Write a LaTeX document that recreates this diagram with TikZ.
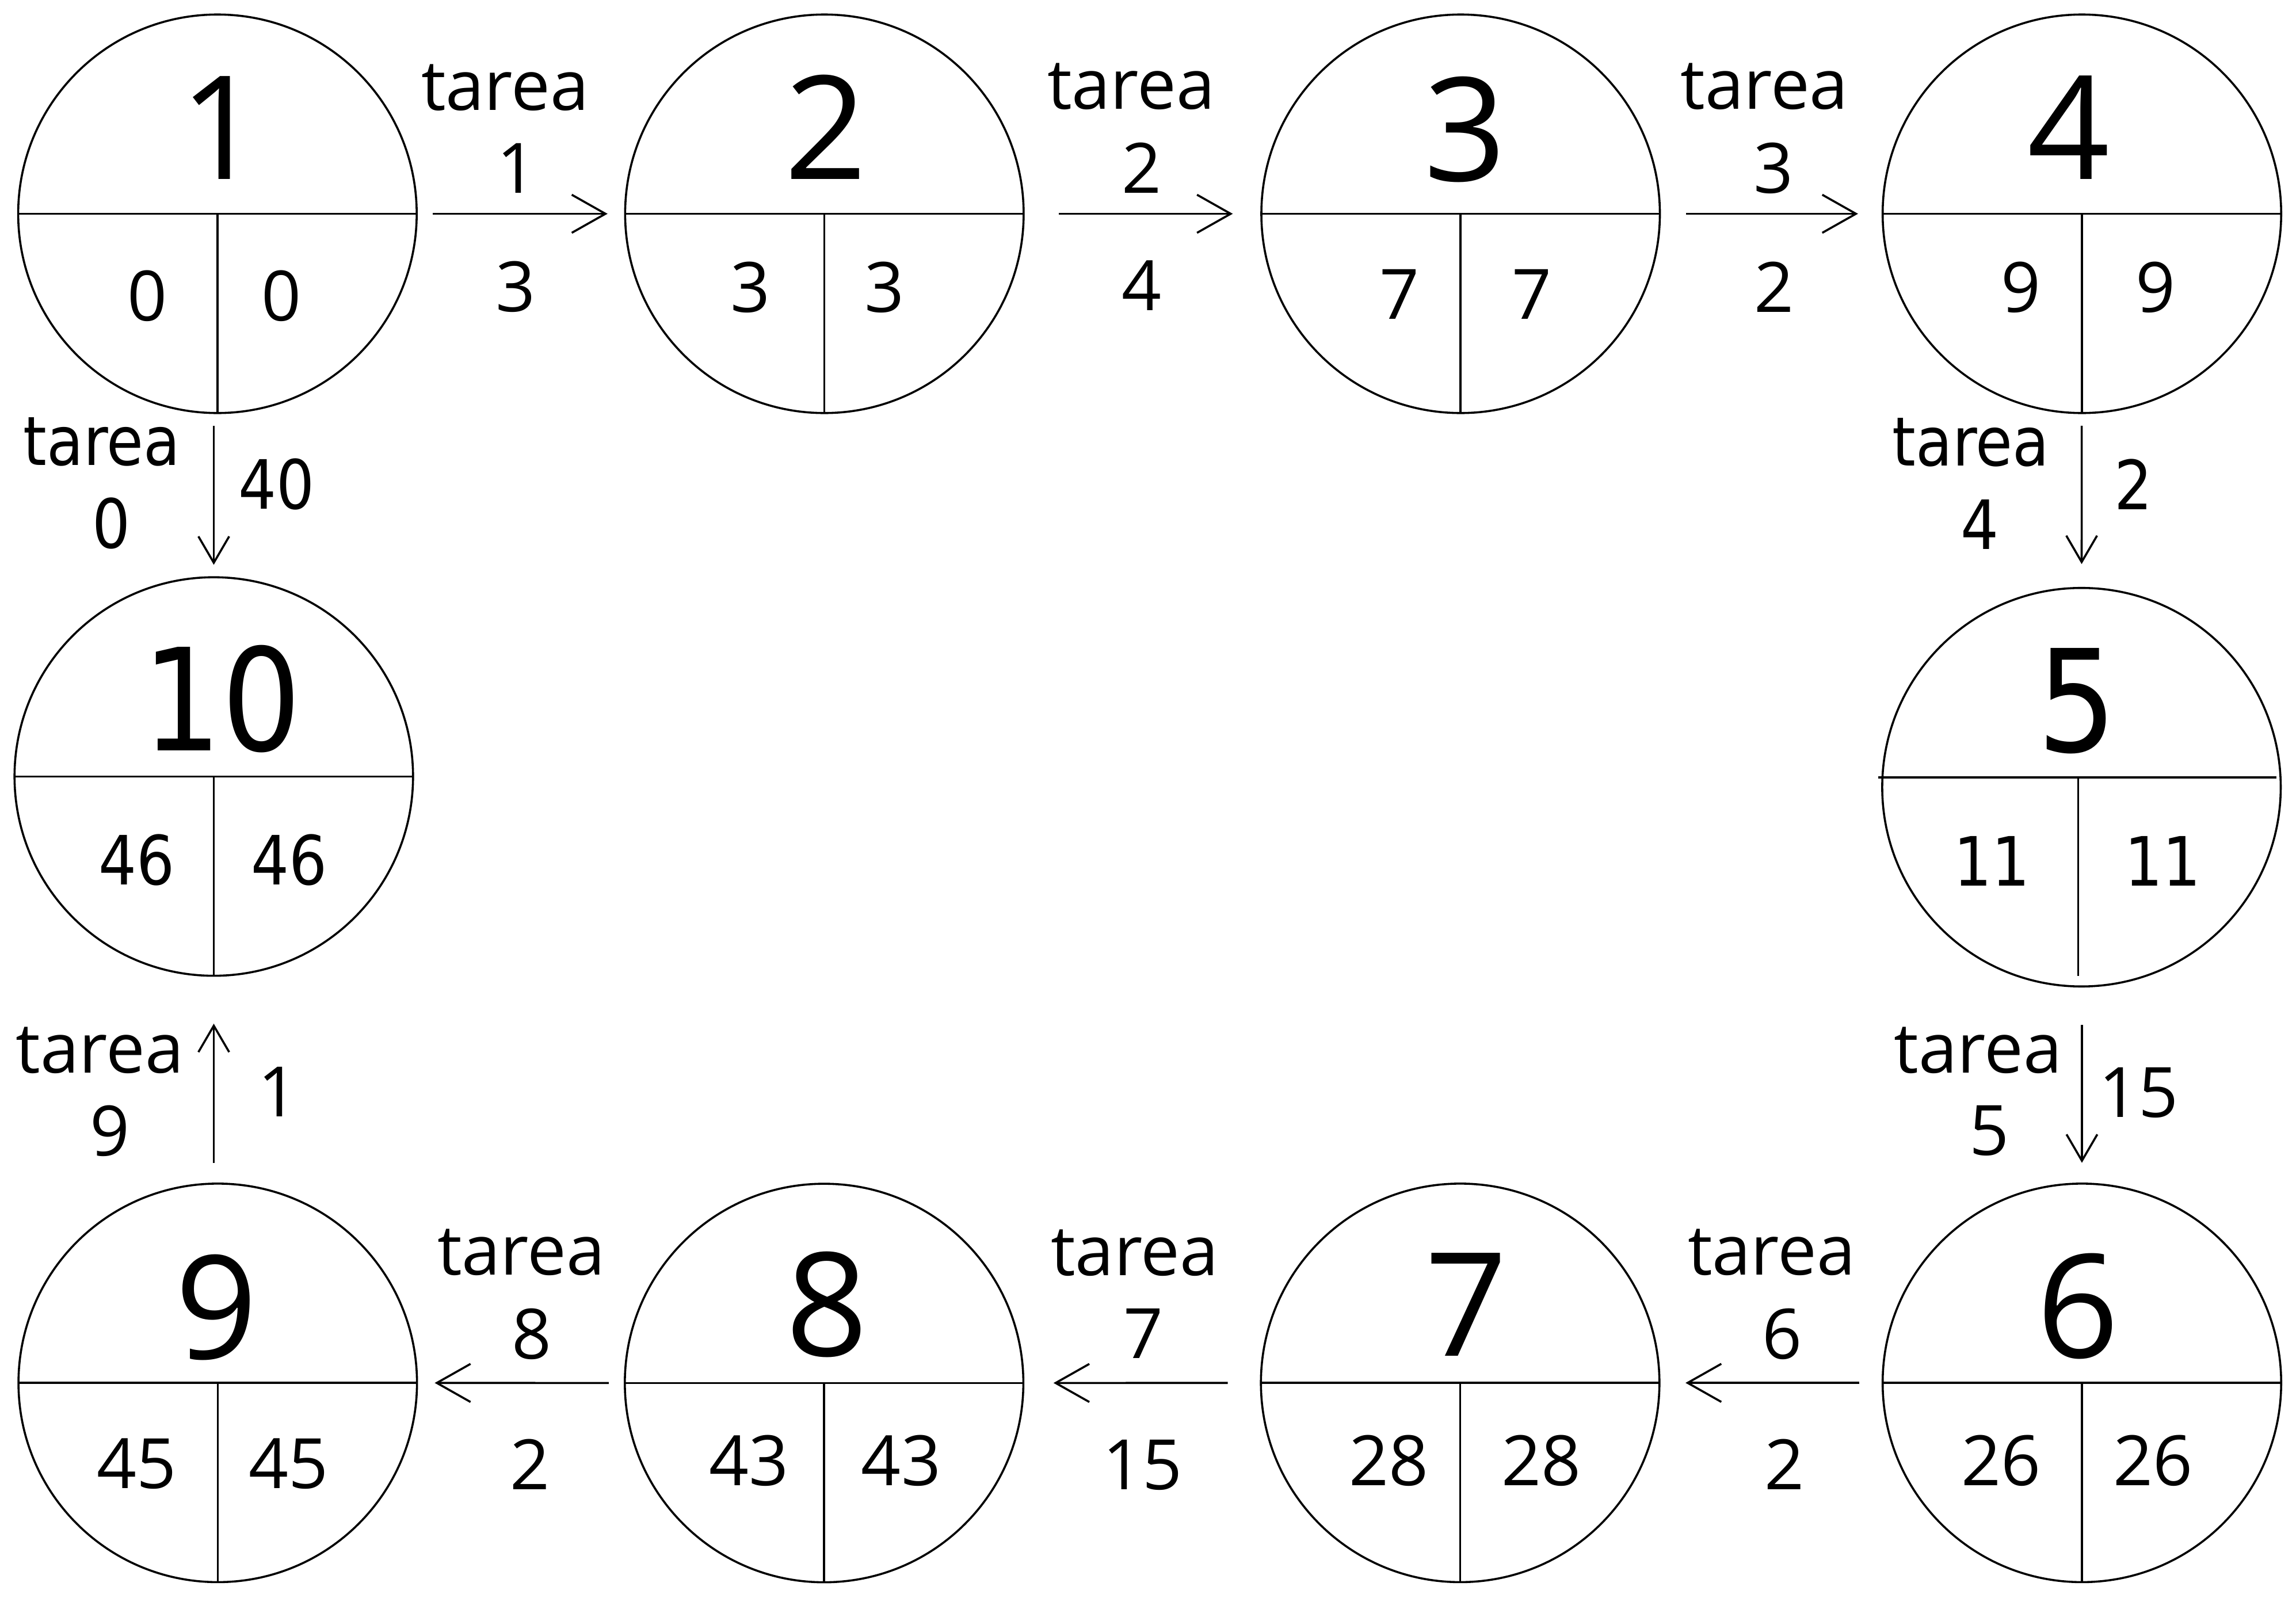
\documentclass[tikz,border=0pt]{standalone}
\usepackage{fontspec}
\setmainfont{Open Sans}
\newfontfamily\dvfont[FakeStretch=0.88]{DejaVu Sans}
\usetikzlibrary{arrows.meta}

\begin{document}
\begin{tikzpicture}[
  x=0.01cm, y=-0.01cm,
  event/.style={circle, draw, minimum size=2.72cm, inner sep=0pt, outer sep=0pt},
  bignum/.style={anchor=base, font=\fontsize{28}{30}\selectfont},
  txt/.style={anchor=base, font=\fontsize{13.5}{16}\selectfont},
  bigdv/.style={anchor=base, font=\dvfont\fontsize{27.6}{30}\selectfont},
  txtdv/.style={anchor=base, font=\dvfont\fontsize{13.2}{16}\selectfont},
  harrow/.style={-{Straight Barb[length=0.23cm, width=0.26cm]}},
  varrow/.style={-{Straight Barb[length=0.18cm, width=0.21cm]}}
]
\useasboundingbox (0,0) rectangle (1568,1091);

% Events, top row
\node[event] (e1) at (148.5,146) {};
\node[event] (e2) at (563,146) {};
\node[event] (e3) at (997.5,146) {};
\node[event] (e4) at (1421.8,146) {};
% Events, sides
\node[event] (e10) at (146,530.3) {};
\node[event] (e5) at (1421.5,537.6) {};
% Events, bottom row
\node[event] (e6) at (1421.8,944.4) {};
\node[event] (e7) at (997.2,944.4) {};
\node[event] (e8) at (562.8,944.5) {};
\node[event] (e9) at (148.7,944.4) {};

% Dividing lines
\draw (e1.west) -- (e1.east) (e1.center) -- (e1.south);
\draw (e2.west) -- (e2.east) (e2.center) -- (e2.south);
\draw (e3.west) -- (e3.east) (e3.center) -- (e3.south);
\draw (e4.west) -- (e4.east) (e4.center) -- (e4.south);
\draw (e10.west) -- (e10.east) (e10.center) -- (e10.south);
\draw ([shift={(-2.8,-6.6)}]e5.west) -- ([shift={(-2.8,-6.6)}]e5.east);
\draw ([shift={(-2.2,-6.6)}]e5.center) -- ([shift={(-2.2,-7.2)}]e5.south);
\draw (e6.west) -- (e6.east) (e6.center) -- (e6.south);
\draw (e7.west) -- (e7.east) (e7.center) -- (e7.south);
\draw (e8.west) -- (e8.east) (e8.center) -- (e8.south);
\draw (e9.west) -- (e9.east) (e9.center) -- (e9.south);

% Event numbers and times
\node[bignum] (e1n) at (151,122.6) {1};
\node[txt] (e1a) at (100.6,219) {0};
\node[txt] (e1b) at (192,219) {0};

\node[bignum] (e2n) at (564,122.5) {2};
\node[txt] (e2a) at (512.5,213) {3};
\node[txt] (e2b) at (604,213) {3};

\node[bignum] (e3n) at (1000.4,123.4) {3};
\node[txt] (e3a) at (955.6,218) {7};
\node[txt] (e3b) at (1046,218) {7};

\node[bignum] (e4n) at (1412.7,122.5) {4};
\node[txt] (e4a) at (1380,213) {9};
\node[txt] (e4b) at (1472,213) {9};

\node[bigdv] (e5n) at (1418.7,513.5) {5};
\node[txtdv] (e5a) at (1360.5,605) {11};
\node[txtdv] (e5b) at (1477,605) {11};

\node[bignum] (e6n) at (1419,927.4) {6};
\node[txt] (e6a) at (1366.5,1014.5) {26};
\node[txt] (e6b) at (1470.5,1014.5) {26};

\node[bignum] (e7n) at (1001.4,926) {7};
\node[txt] (e7a) at (948.3,1014.3) {28};
\node[txt] (e7b) at (1052.7,1014.3) {28};

\node[bignum] (e8n) at (564.8,926) {8};
\node[txt] (e8a) at (511.3,1014.3) {43};
\node[txt] (e8b) at (615.4,1014.3) {43};

\node[bignum] (e9n) at (148,928) {9};
\node[txt] (e9a) at (93.4,1016.4) {45};
\node[txt] (e9b) at (197,1016.4) {45};

\node[bigdv] (e10n) at (151.7,512.7) {10};
\node[txtdv] (e10a) at (93.5,604.4) {46};
\node[txtdv] (e10b) at (197.4,604.4) {46};

% Tasks
\draw[harrow, shorten <=0.11cm, shorten >=0.12cm] (e1) -- (e2);
\node[txt] (t1) at (345,75.2) {tarea};
\node[txt] (k1) at (352.8,131.8) {1};
\node[txt] (d1) at (352,212.7) {3};

\draw[harrow, shorten <=0.239cm, shorten >=0.195cm] (e2) -- (e3);
\node[txt] (t2) at (772.6,74.3) {tarea};
\node[txt] (k2) at (779.5,131.8) {2};
\node[txt] (d2) at (779.8,212) {4};

\draw[harrow, shorten <=0.18cm, shorten >=0.168cm] (e3) -- (e4);
\node[txt] (t3) at (1205,74.3) {tarea};
\node[txt] (k3) at (1211,131.8) {3};
\node[txt] (d3) at (1211.5,213) {2};

\draw[varrow, shorten <=0.087cm, shorten >=0.163cm] (e4) -- (e5);
\node[txtdv] (t4) at (1346,318) {tarea};
\node[txtdv] (k4) at (1352,375) {4};
\node[txtdv] (d4) at (1457,348) {2};

\draw[varrow, shorten <=0.262cm, shorten >=0.142cm] (e5.south -| e6) -- (e6.north);
\node[txt] (t5) at (1351,732.7) {tarea};
\node[txt] (k5) at (1358.4,788.8) {5};
\node[txt] (d5) at (1460.6,762.9) {15};

\draw[harrow, shorten <=0.158cm, shorten >=0.178cm] (e6) -- (e7);
\node[txt] (t6) at (1210,870.8) {tarea};
\node[txt] (k6) at (1217,928.2) {6};
\node[txt] (d6) at (1218.5,1017.2) {2};

\draw[harrow, shorten <=0.226cm, shorten >=0.206cm] (e7) -- (e8);
\node[txt] (t7) at (775,871) {tarea};
\node[txt] (k7) at (781,927.8) {7};
\node[txt] (d7) at (780.3,1017.3) {15};

\draw[harrow, shorten <=0.11cm, shorten >=0.121cm] (e8) -- (e9);
\node[txt] (t8) at (356,870.8) {tarea};
\node[txt] (k8) at (363,928.2) {8};
\node[txt] (d8) at (362,1017.2) {2};

\draw[varrow, shorten <=0.142cm, shorten >=0.327cm] (e9.north -| e10) -- (e10.south);
\node[txt] (t9) at (68.2,732.7) {tarea};
\node[txt] (k9) at (75.2,789.3) {9};
\node[txt] (d9) at (189.8,762.4) {1};

\draw[varrow, shorten <=0.087cm, shorten >=0.085cm] (e1.south -| e10) -- (e10.north);
\node[txtdv] (t0) at (69.5,317.8) {tarea};
\node[txtdv] (k0) at (76,374.3) {0};
\node[txtdv] (d0) at (188.8,347.5) {40};

\end{tikzpicture}
\end{document}
